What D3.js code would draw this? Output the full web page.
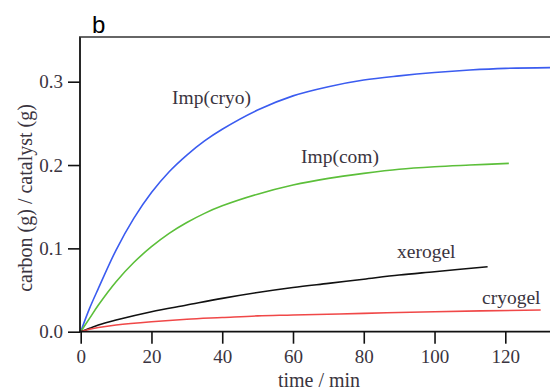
<!DOCTYPE html>
<html>
<head>
<meta charset="utf-8">
<script src="https://cdn.jsdelivr.net/npm/d3@7"></script>
<style>
  body { margin: 0; background: #fff; }
  svg { display: block; }
</style>
</head>
<body>
<script>
// time axis (min) and carbon yield per series
var tImpCryo = [0, 2.5, 5, 10, 15, 20, 25, 30, 35, 40, 50, 60, 70, 80, 90, 100, 110, 120, 135];
var vImpCryo = [0, 0.028, 0.052, 0.098, 0.136, 0.167, 0.192, 0.212, 0.229, 0.243, 0.266, 0.283, 0.294, 0.302, 0.307, 0.311, 0.314, 0.316, 0.317];

var tImpCom = [0, 2.5, 5, 10, 15, 20, 25, 30, 35, 40, 50, 60, 70, 80, 90, 100, 110, 121];
var vImpCom = [0, 0.016, 0.032, 0.060, 0.083, 0.102, 0.118, 0.131, 0.142, 0.151, 0.165, 0.176, 0.184, 0.190, 0.195, 0.198, 0.200, 0.202];

var tXerogel = [0, 2.5, 5, 10, 20, 30, 40, 50, 60, 70, 80, 90, 100, 115];
var vXerogel = [0, 0.004, 0.008, 0.014, 0.024, 0.032, 0.040, 0.047, 0.053, 0.058, 0.063, 0.068, 0.072, 0.078];

var tCryogel = [0, 2.5, 5, 10, 20, 30, 40, 50, 60, 80, 100, 130];
var vCryogel = [0, 0.003, 0.005, 0.008, 0.012, 0.015, 0.017, 0.019, 0.020, 0.022, 0.024, 0.026];

var xTicks = [0, 20, 40, 60, 80, 100, 120];
var yTicks = [0, 0.1, 0.2, 0.3];

var seriesNames = ["Imp(cryo)", "Imp(com)", "xerogel", "cryogel"];
var seriesColors = ["#3b5cf0", "#5cbf3a", "#111111", "#f04848"];

var width = 550, height = 390;
var serif = "'Liberation Serif', 'Times New Roman', serif";
var textColor = "#3a3440";

var svg = d3.select("body").append("svg")
    .attr("width", width)
    .attr("height", height);

//scales fitted to tick positions
var xScale = d3.scaleLinear().domain([0, 120]).range([80.7, 505.3]);
var yScale = d3.scaleLinear().domain([0, 0.3]).range([331.7, 81.7]);

var plotTop = 37, plotRight = 550;

svg.append("clipPath").attr("id", "plot")
  .append("rect")
    .attr("x", 79).attr("y", plotTop)
    .attr("width", plotRight - 79).attr("height", 331.7 - plotTop + 2);

//series lines
var line = d3.line()
    .x(function(d) { return xScale(d[0]); })
    .y(function(d) { return yScale(d[1]); })
    .curve(d3.curveCatmullRom);

var series = [
  d3.zip(tImpCryo, vImpCryo),
  d3.zip(tImpCom, vImpCom),
  d3.zip(tXerogel, vXerogel),
  d3.zip(tCryogel, vCryogel)
];

svg.append("g").attr("clip-path", "url(#plot)")
  .selectAll("path")
  .data(series)
  .enter()
  .append("path")
    .attr("d", line)
    .attr("fill", "none")
    .attr("stroke", function(d, i) { return seriesColors[i]; })
    .attr("stroke-width", 1.6);

//axes
var y_axis = d3.axisLeft(yScale)
    .tickValues(yTicks)
    .tickFormat(d3.format(".1f"))
    .tickSize(12)
    .tickSizeOuter(0)
    .tickPadding(5);

var x_axis = d3.axisBottom(xScale)
    .tickValues(xTicks)
    .tickSize(12)
    .tickSizeOuter(0)
    .tickPadding(6);

var gy = svg.append("g")
    .attr("transform", "translate(80,0)")
    .call(y_axis);
gy.select(".domain").remove();

var gx = svg.append("g")
    .attr("transform", "translate(0,331.7)")
    .call(x_axis);
gx.select(".domain").remove();

svg.selectAll(".tick line").attr("stroke", "#111").attr("stroke-width", 1.6);
svg.selectAll(".tick text")
    .style("font-family", serif)
    .style("font-size", "19px")
    .attr("fill", textColor);

//frame lines: left, bottom and top
svg.append("line").attr("x1", 80).attr("x2", 80).attr("y1", plotTop).attr("y2", 332.5)
    .attr("stroke", "#111").attr("stroke-width", 1.8);
svg.append("line").attr("x1", 79).attr("x2", plotRight).attr("y1", 331.7).attr("y2", 331.7)
    .attr("stroke", "#111").attr("stroke-width", 1.8);
svg.append("line").attr("x1", 79).attr("x2", plotRight).attr("y1", plotTop).attr("y2", plotTop)
    .attr("stroke", "#333").attr("stroke-width", 1.6);

//series labels
var labelPos = [[172, 104], [301, 163], [397, 258], [482, 304]];
svg.selectAll(".lbl")
  .data(seriesNames)
  .enter()
  .append("text")
    .attr("class", "lbl")
    .attr("x", function(d, i) { return labelPos[i][0]; })
    .attr("y", function(d, i) { return labelPos[i][1]; })
    .style("font-family", serif)
    .style("font-size", "19.5px")
    .attr("fill", textColor)
    .text(function(d) { return d; });

//axis titles
svg.append("text")
    .attr("text-anchor", "middle")
    .attr("x", 319)
    .attr("y", 387)
    .style("font-family", serif)
    .style("font-size", "20px")
    .attr("fill", textColor)
    .text("time / min");

svg.append("text")
    .attr("text-anchor", "middle")
    .attr("transform", "translate(32,198) rotate(-90)")
    .style("font-family", serif)
    .style("font-size", "20px")
    .attr("fill", textColor)
    .text("carbon (g) / catalyst (g)");

svg.append("text")
    .attr("x", 92)
    .attr("y", 33)
    .style("font-family", "'Liberation Sans', Arial, sans-serif")
    .style("font-size", "24px")
    .attr("fill", "#000")
    .text("b");
</script>
</body>
</html>
